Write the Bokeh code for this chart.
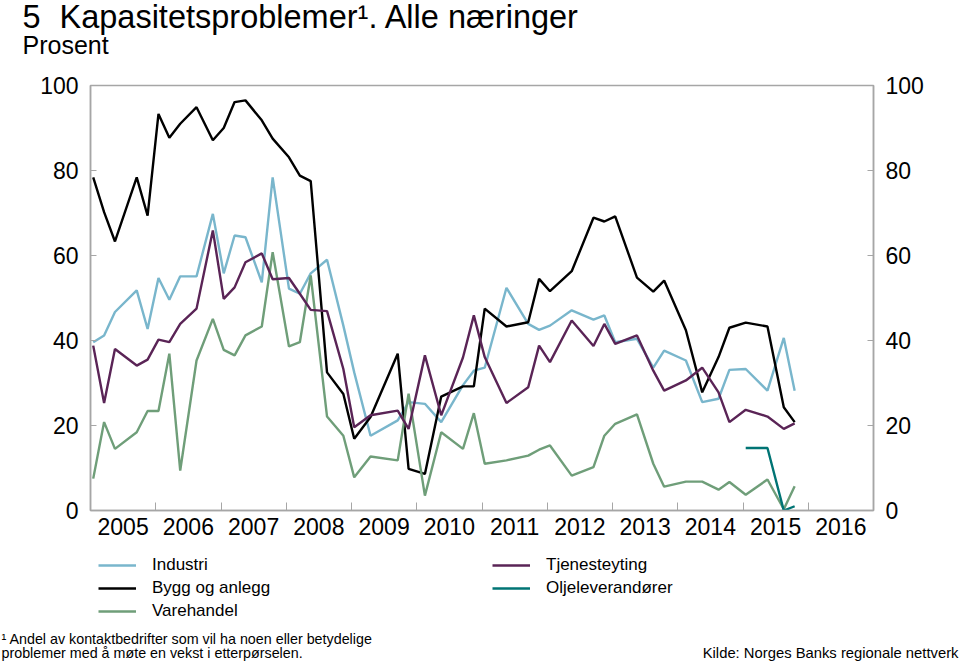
from bokeh.plotting import figure
from bokeh.layouts import column
from bokeh.models import (Range1d, LinearAxis, FixedTicker, CustomJSTickFormatter,
                          Legend, LegendItem, Label)
from bokeh.embed import file_html
from bokeh.resources import INLINE

FONT = "Liberation Sans"

# Survey rounds (year-month)
rounds = [
    "2005-01", "2005-03", "2005-05", "2005-09", "2005-11",
    "2006-01", "2006-03", "2006-05", "2006-08", "2006-11",
    "2007-01", "2007-03", "2007-05", "2007-08", "2007-10",
    "2008-01", "2008-03", "2008-05", "2008-08", "2008-11",
    "2009-01", "2009-04", "2009-09", "2009-11",
    "2010-02", "2010-05", "2010-09", "2010-11",
    "2011-01", "2011-05", "2011-09", "2011-11",
    "2012-01", "2012-05", "2012-09", "2012-11",
    "2013-01", "2013-05", "2013-08", "2013-10",
    "2014-02", "2014-05", "2014-08", "2014-10",
    "2015-01", "2015-05", "2015-08", "2015-10",
]

industri = [
    39.6, 41.2, 46.7, 51.8, 42.7,
    54.7, 49.6, 55.1, 55.1, 69.8,
    55.8, 64.7, 64.3, 53.7, 78.4,
    52.2, 51.0, 55.8, 59.0, 43.5,
    32.5, 17.6, 21.2, 25.5,
    25.1, 20.8, 29.5, 32.9,
    33.6, 52.4, 43.9, 42.5,
    43.5, 47.1, 44.9, 45.9,
    39.6, 40.4, 33.6, 37.6,
    35.3, 25.5, 26.3, 33.1,
    33.3, 28.2, 40.6, 28.2,
]

bygg = [
    78.4, 70.2, 63.3, 78.4, 69.4,
    93.3, 87.7, 91.0, 94.9, 87.1,
    90.0, 96.1, 96.5, 91.8, 87.5,
    83.1, 78.8, 77.5, 32.5, 27.4,
    16.9, 22.0, 36.9, 9.8,
    8.6, 26.8, 29.2, 29.2,
    47.5, 43.3, 44.3, 54.5,
    51.6, 56.3, 68.9, 68.0,
    69.2, 54.8, 51.5, 54.1,
    42.4, 27.8, 36.1, 43.0,
    44.2, 43.3, 24.3, 20.8,
]

varehandel = [
    7.5, 20.8, 14.5, 18.4, 23.4,
    23.4, 36.9, 9.4, 35.3, 45.1,
    37.8, 36.5, 41.2, 43.3, 60.8,
    38.6, 39.6, 55.3, 22.1, 17.6,
    7.8, 12.7, 11.8, 27.5,
    3.5, 18.4, 14.5, 22.9,
    11.0, 11.8, 12.9, 14.3,
    15.3, 8.2, 10.2, 17.6,
    20.4, 22.6, 11.0, 5.6,
    6.8, 6.8, 4.9, 6.7,
    3.7, 7.3, 0.3, 5.7,
]

tjenesteyting = [
    38.8, 25.3, 38.0, 34.1, 35.5,
    40.2, 39.6, 43.9, 47.5, 65.9,
    49.8, 52.5, 58.4, 60.5, 54.4,
    54.7, 51.0, 47.2, 46.9, 33.3,
    19.6, 22.4, 23.5, 19.2,
    36.5, 22.4, 36.0, 45.9,
    36.1, 25.3, 29.0, 38.8,
    34.9, 44.7, 38.7, 43.9,
    39.2, 41.2, 32.9, 28.2,
    30.6, 33.6, 27.8, 20.8,
    23.7, 22.1, 19.2, 20.5,
]

olje_rounds = ["2015-01", "2015-05", "2015-08", "2015-10"]
olje = [14.7, 14.7, 0.0, 1.0]

series_names = ["Industri", "Bygg og anlegg", "Varehandel", "Tjenesteyting", "Oljeleverandører"]
series_colors = ["#79b6cc", "#000000", "#6f9e79", "#5a2456", "#007474"]

year_labels = [str(y) for y in range(2005, 2017)]
y_ticks = [0, 20, 40, 60, 80, 100]


def pos(r):
    y, m = r.split("-")
    return int(y) + (int(m) - 0.5) / 12.0


x = [pos(r) for r in rounds]
x_olje = [pos(r) for r in olje_rounds]

W = 960
GRAY = "#a6a6a6"
LW = 2.4


def text_fig(h):
    f = figure(width=W, height=h, output_backend="svg", toolbar_location=None,
               x_range=Range1d(0, 1), y_range=Range1d(0, 1), title_location=None,
               x_axis_location=None, y_axis_location=None,
               min_border=0, min_border_left=0, min_border_right=0,
               min_border_top=0, min_border_bottom=0)
    f.frame_align = False
    f.outline_line_color = None
    f.grid.visible = False
    f.background_fill_color = "white"
    f.border_fill_color = "white"
    return f


def add_label(f, text, xs, ys, size, align="left"):
    f.add_layout(Label(x=xs, y=ys, x_units="screen", y_units="screen", text=text,
                       text_font=FONT, text_font_size=size, text_color="black",
                       text_align=align, text_baseline="alphabetic"))


# ---- top: title
top = text_fig(60)
add_label(top, "5", 22, 44, "32.5px")
add_label(top, "Kapasitetsproblemer¹. Alle næringer", 59, 44, "32.5px")
add_label(top, "Prosent", 22, 15.5, "25px")

# ---- main chart
p = figure(width=W, height=485, output_backend="svg", toolbar_location=None,
           title_location=None,
           x_range=Range1d(2005, 2017), y_range=Range1d(0, 100),
           min_border_left=90, min_border_right=87, min_border_top=25,
           min_border_bottom=35)
p.frame_align = False
p.xgrid.visible = False
p.ygrid.visible = False
p.outline_line_color = GRAY
p.outline_line_width = 1.5
p.background_fill_color = "white"
p.border_fill_color = "white"

xa = p.xaxis[0]
xa.ticker = FixedTicker(ticks=[int(l) + 0.5 for l in year_labels],
                        minor_ticks=list(range(2006, 2017)))
xa.formatter = CustomJSTickFormatter(code="return String(Math.floor(tick));")
xa.major_tick_line_color = None
xa.minor_tick_line_color = GRAY
xa.minor_tick_in = 8
xa.minor_tick_out = 0
xa.axis_line_color = GRAY
xa.axis_line_width = 1.5
xa.major_label_text_font = FONT
xa.major_label_text_font_size = "23px"
xa.major_label_text_color = "black"
xa.major_label_standoff = 1

ya = p.yaxis[0]
ya_r = LinearAxis()
p.add_layout(ya_r, "right")
for ax in (ya, ya_r):
    ax.ticker = FixedTicker(ticks=y_ticks)
    ax.minor_tick_line_color = None
    ax.major_tick_line_color = GRAY
    ax.major_tick_in = 6
    ax.major_tick_out = 0
    ax.axis_line_color = GRAY
    ax.axis_line_width = 1.5
    ax.major_label_text_font = FONT
    ax.major_label_text_font_size = "23px"
    ax.major_label_text_color = "black"
    ax.major_label_standoff = 12

for vals, col in zip([industri, bygg, varehandel, tjenesteyting], series_colors[:4]):
    p.line(x, vals, line_color=col, line_width=LW)
p.line(x_olje, olje, line_color=series_colors[4], line_width=LW)

# ---- bottom: legend and notes
bot = text_fig(116)
items = []
for name, col in zip(series_names, series_colors):
    # a single missing point: draws nothing, only provides the legend sample style
    r = bot.line(x=[float("nan")], y=[float("nan")], line_color=col, line_width=LW)
    items.append(LegendItem(label=name, renderers=[r]))
legend = Legend(items=items, location=(98, 40), orientation="vertical", nrows=3,
                glyph_width=38, glyph_height=20, label_height=20, label_width=337,
                label_standoff=16, spacing=3, padding=0, margin=0,
                border_line_color=None, background_fill_alpha=0,
                label_text_font=FONT, label_text_font_size="17px",
                label_text_color="black")
bot.add_layout(legend)
add_label(bot, "¹ Andel av kontaktbedrifter som vil ha noen eller betydelige", 1, 23, "14.3px")
add_label(bot, "problemer med å møte en vekst i etterpørselen.", 1, 8.5, "14.3px")
add_label(bot, "Kilde: Norges Banks regionale nettverk", 958, 8.5, "14.8px", align="right")

layout = column(top, p, bot, spacing=0)
open("out.html", "w").write(file_html(layout, INLINE))
